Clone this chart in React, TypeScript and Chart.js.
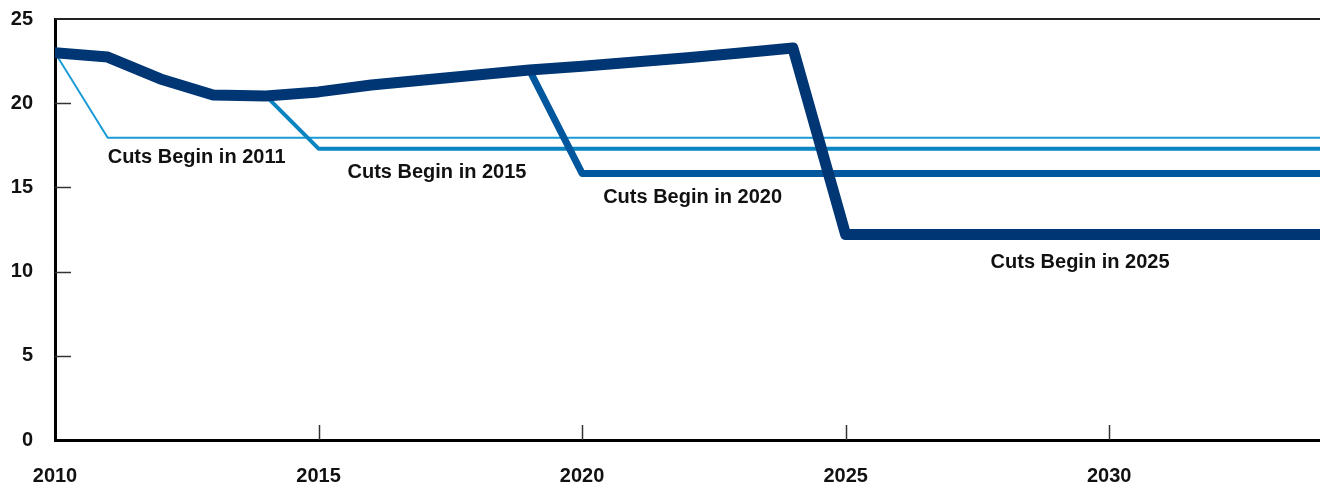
import React, { useEffect, useRef } from "react";
import { Chart, registerables } from "chart.js";

Chart.register(...registerables);

const years = [2010, 2011, 2012, 2013, 2014, 2015, 2016, 2017, 2018, 2019, 2020, 2021, 2022, 2023, 2024, 2025, 2026, 2027, 2028, 2029, 2030, 2031, 2032, 2033, 2034];

const cutsBegin2011 = [23.0, 17.95, 17.95, 17.95, 17.95, 17.95, 17.95, 17.95, 17.95, 17.95, 17.95, 17.95, 17.95, 17.95, 17.95, 17.95, 17.95, 17.95, 17.95, 17.95, 17.95, 17.95, 17.95, 17.95, 17.95];
const cutsBegin2015 = [23.0, 22.74, 21.44, 20.49, 20.43, 17.3, 17.3, 17.3, 17.3, 17.3, 17.3, 17.3, 17.3, 17.3, 17.3, 17.3, 17.3, 17.3, 17.3, 17.3, 17.3, 17.3, 17.3, 17.3, 17.3];
const cutsBegin2020 = [23.0, 22.74, 21.44, 20.49, 20.43, 20.67, 21.08, 21.38, 21.67, 21.97, 15.83, 15.83, 15.83, 15.83, 15.83, 15.83, 15.83, 15.83, 15.83, 15.83, 15.83, 15.83, 15.83, 15.83, 15.83];
const cutsBegin2025 = [23.0, 22.74, 21.44, 20.49, 20.43, 20.67, 21.08, 21.38, 21.67, 21.97, 22.2, 22.45, 22.7, 22.98, 23.28, 12.2, 12.2, 12.2, 12.2, 12.2, 12.2, 12.2, 12.2, 12.2, 12.2];

const seriesNames = ["Cuts Begin in 2011", "Cuts Begin in 2015", "Cuts Begin in 2020", "Cuts Begin in 2025"];
const seriesColors = ["#1a9ad6", "#0a85c2", "#00579e", "#003674"];
const seriesWidths = [2, 4, 7, 11];

const labelYears = [2011.0, 2015.55, 2020.4, 2027.75];
const labelValues = [16.75, 15.91, 14.43, 10.57];

const xTicks = [2010, 2015, 2020, 2025, 2030];
const yTicks = [0, 5, 10, 15, 20, 25];

const FONT = "'Liberation Sans', Arial, sans-serif";

const overlayPlugin = {
  id: "overlay",
  afterDatasetsDraw(chart: any) {
    const { ctx, chartArea, scales } = chart;
    const xs = scales.x;
    const ys = scales.y;
    ctx.save();
    // top border
    ctx.strokeStyle = "#222";
    ctx.lineWidth = 2;
    ctx.beginPath();
    ctx.moveTo(chartArea.left, chartArea.top);
    ctx.lineTo(chartArea.right, chartArea.top);
    ctx.stroke();
    // inward ticks
    ctx.strokeStyle = "#333";
    ctx.lineWidth = 1.5;
    yTicks.forEach((v) => {
      if (v === 0 || v === 25) return;
      const y = Math.round(ys.getPixelForValue(v)) + 0.5;
      ctx.beginPath();
      ctx.moveTo(chartArea.left, y);
      ctx.lineTo(chartArea.left + 16, y);
      ctx.stroke();
    });
    xTicks.forEach((v) => {
      if (v === 2010) return;
      const x = Math.round(xs.getPixelForValue(v)) + 0.5;
      ctx.beginPath();
      ctx.moveTo(x, chartArea.bottom);
      ctx.lineTo(x, chartArea.bottom - 15);
      ctx.stroke();
    });
    // series labels
    ctx.fillStyle = "#111";
    ctx.font = `bold 20px ${FONT}`;
    ctx.textAlign = "left";
    ctx.textBaseline = "middle";
    seriesNames.forEach((name, i) => {
      ctx.fillText(name, xs.getPixelForValue(labelYears[i]), ys.getPixelForValue(labelValues[i]));
    });
    ctx.restore();
  },
};

export default function App() {
  const ref = useRef<HTMLCanvasElement>(null);

  useEffect(() => {
    if (!ref.current) return;
    const allSeries = [cutsBegin2011, cutsBegin2015, cutsBegin2020, cutsBegin2025];
    const chart = new Chart(ref.current, {
      type: "line",
      data: {
        datasets: allSeries.map((vals, i) => ({
          label: seriesNames[i],
          data: years.map((yr, j) => ({ x: yr, y: vals[j] })),
          borderColor: seriesColors[i],
          backgroundColor: seriesColors[i],
          borderWidth: seriesWidths[i],
          pointRadius: 0,
          tension: 0,
          borderCapStyle: "round",
          borderJoinStyle: "round",
          order: 4 - i,
        })),
      },
      options: {
        responsive: false,
        animation: false,
        devicePixelRatio: 1,
        layout: { padding: { top: 19, right: 0, left: 0, bottom: 0 } },
        plugins: {
          legend: { display: false },
          tooltip: { enabled: false },
        },
        scales: {
          x: {
            type: "linear",
            min: 2010,
            max: 2034,
            afterFit: (s: any) => {
              s.height = 47;
              s.paddingLeft = 0;
              s.paddingRight = 0;
            },
            grid: { display: false, drawTicks: false },
            border: { display: true, color: "#000", width: 3 },
            ticks: {
              stepSize: 5,
              includeBounds: false,
              padding: 24,
              color: "#111",
              font: { family: FONT, size: 20, weight: "bold" },
              callback: (v: any) => (xTicks.includes(v) ? String(v) : ""),
              maxRotation: 0,
              autoSkip: false,
            },
          },
          y: {
            min: 0,
            max: 25,
            afterFit: (s: any) => {
              s.width = 55;
              s.paddingTop = 0;
              s.paddingBottom = 0;
            },
            grid: { display: false, drawTicks: false },
            border: { display: true, color: "#000", width: 3 },
            ticks: {
              stepSize: 5,
              padding: 22,
              color: "#111",
              font: { family: FONT, size: 20, weight: "bold" },
              callback: (v: any) => (yTicks.includes(v) ? String(v) : ""),
            },
          },
        },
      },
      plugins: [overlayPlugin],
    } as any);
    return () => chart.destroy();
  }, []);

  return (
    <div style={{ position: "absolute", left: 0, top: 0, width: 1320, height: 487, background: "#fff" }}>
      <canvas ref={ref} width={1320} height={487} style={{ display: "block", width: 1320, height: 487 }} />
    </div>
  );
}
